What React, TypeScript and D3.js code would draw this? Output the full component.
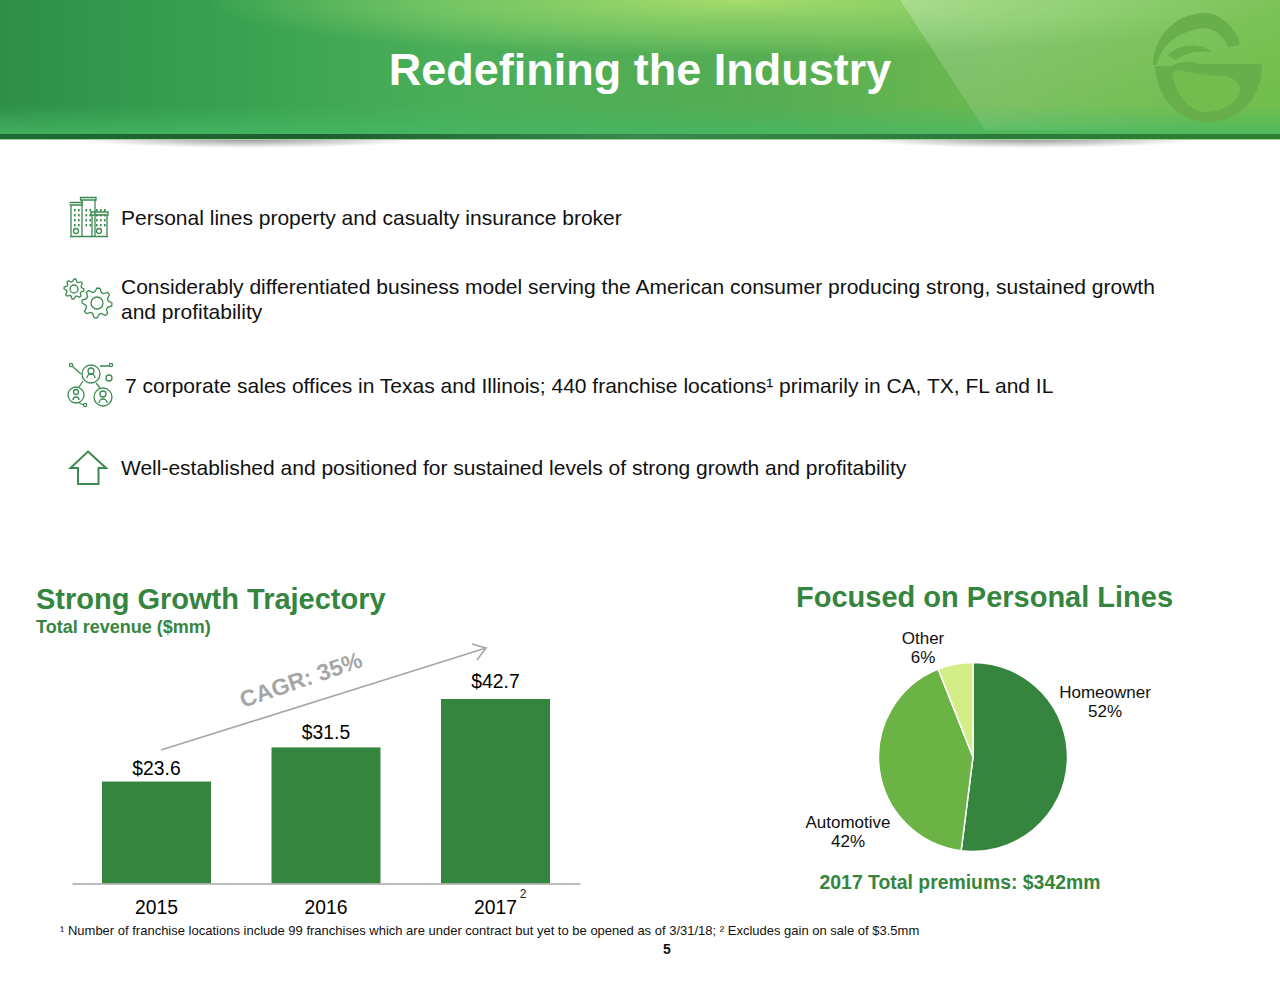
import React, { useEffect, useRef } from "react";
import * as d3 from "d3";

const years = ["2015", "2016", "2017"];
const revenue = [23.6, 31.5, 42.7];
const revenueLabels = ["$23.6", "$31.5", "$42.7"];

const lineNames = ["Homeowner", "Automotive", "Other"];
const lineShares = [52, 42, 6];
const lineColors = ["#35853f", "#6bb345", "#d3ee86"];

const GREEN = "#35853f";
const ICON = "#3c8a50";
const FONT = "'Liberation Sans', Arial, sans-serif";

const x = d3.scaleBand<string>().domain(years).range([72, 580]).paddingInner(0.357).paddingOuter(0.177);
const y = d3.scaleLinear().domain([0, 42.7]).range([883.5, 699]);

const labelGaps = [6.5, 8, 11];

const pieCenter = { x: 973, y: 757 };
const pieArcs = d3.pie<number>().sort(null)(lineShares);
const arc = d3.arc<d3.PieArcDatum<number>>().innerRadius(0).outerRadius(94.5);

const pieLabels = [
  { x: 1105, y: 698 },
  { x: 848, y: 828 },
  { x: 923, y: 644 },
];

function gearPath(cx: number, cy: number, r: number, teeth: number) {
  const pts: string[] = [];
  for (let i = 0; i < teeth * 4; i++) {
    const a = (i / (teeth * 4)) * Math.PI * 2;
    const rr = i % 4 < 2 ? r : r * 0.76;
    pts.push(`${cx + rr * Math.cos(a)},${cy + rr * Math.sin(a)}`);
  }
  return "M" + pts.join("L") + "Z";
}

function Header() {
  return (
    <g>
      <defs>
        <linearGradient id="base" x1="0" x2="1" y1="0" y2="0">
          <stop offset="0" stopColor="#2f8f49" />
          <stop offset="0.16" stopColor="#36a050" />
          <stop offset="0.35" stopColor="#4aae59" />
          <stop offset="0.6" stopColor="#56ad53" />
          <stop offset="0.78" stopColor="#6cb950" />
          <stop offset="1" stopColor="#73bf4c" />
        </linearGradient>
        <radialGradient id="glow" cx="0.58" cy="0" r="0.42">
          <stop offset="0" stopColor="#a8dc6c" stopOpacity="1" />
          <stop offset="0.6" stopColor="#8fd56a" stopOpacity="0.55" />
          <stop offset="1" stopColor="#8fd56a" stopOpacity="0" />
        </radialGradient>
        <linearGradient id="strip" x1="0" x2="0" y1="0" y2="1">
          <stop offset="0" stopColor="#45b864" stopOpacity="0" />
          <stop offset="1" stopColor="#45b864" stopOpacity="0.8" />
        </linearGradient>
        <linearGradient id="band" x1="0" x2="1" y1="0" y2="0">
          <stop offset="0" stopColor="#1e6a33" />
          <stop offset="0.25" stopColor="#1d5f30" />
          <stop offset="0.5" stopColor="#3a8a4d" />
          <stop offset="0.75" stopColor="#2c7a3c" />
          <stop offset="1" stopColor="#2f7f2e" />
        </linearGradient>
        <linearGradient id="ray" x1="0" x2="1" y1="0" y2="0.6">
          <stop offset="0" stopColor="#ffffff" stopOpacity="0.24" />
          <stop offset="1" stopColor="#ffffff" stopOpacity="0" />
        </linearGradient>
        <radialGradient id="shadow" cx="0.5" cy="0.5" r="0.5">
          <stop offset="0" stopColor="#777" stopOpacity="0.8" />
          <stop offset="1" stopColor="#777" stopOpacity="0" />
        </radialGradient>
      </defs>
      <ellipse cx={250} cy={139} rx={170} ry={9} fill="url(#shadow)" />
      <ellipse cx={1030} cy={139} rx={170} ry={9} fill="url(#shadow)" />
      <rect x={0} y={0} width={1280} height={135} fill="url(#base)" />
      <rect x={0} y={0} width={1280} height={135} fill="url(#glow)" />
      <rect x={0} y={105} width={1280} height={30} fill="url(#strip)" />
      <path d="M900,0L985,130L1280,130L1280,0Z" fill="url(#ray)" />
      <rect x={0} y={134} width={1280} height={5} fill="url(#band)" />
      <rect x={0} y={139} width={1280} height={1} fill="#9fd39a" />
      {/* logo watermark */}
      <g fill="#68ae4b">
        <path d="M1240,45C1236,26 1218,13 1205,13C1175,13 1153,38 1153,65L1157,65C1160,45 1180,30 1205,28C1218,30 1225,38 1228,47Z" />
        <path d="M1155,68C1158,100 1180,122 1207,122C1240,122 1262,98 1262,64L1198,64C1190,60 1180,62 1172,66L1155,66Z" />
        <path d="M1168,55C1178,44 1200,42 1212,52C1198,50 1185,53 1175,60Z" />
      </g>
      <path d="M1178,70C1190,72 1205,76 1225,76C1236,78 1241,85 1240,92C1236,105 1220,112 1205,112C1190,112 1175,95 1172,72Z" fill="#74bc4e" />
      <text x={640} y={85} textAnchor="middle" fontSize={45} fontWeight="bold" fill="#fff">
        Redefining the Industry
      </text>
    </g>
  );
}

function Icons() {
  return (
    <g fill="none" stroke={ICON} strokeWidth={1.3}>
      {/* buildings */}
      <path d="M70,236.5H108M71,236V205H82V236M69.5,205H83M69.5,202.5H83M82,236V200H95V236M80.5,197.5H96V200H80.5ZM92,236V215H107V236M91,212H108V215H91Z" />
      {[74, 78, 85.5, 89.5, 96, 100, 104].map((px) =>
        [209, 214, 219, 224].map((py) => (
          <rect key={`${px}-${py}`} x={px} y={py} width={1.6} height={2.4} fill={ICON} stroke="none" />
        ))
      )}
      <circle cx={76} cy={231} r={2.5} />
      <circle cx={99} cy={231} r={2.5} />
      {/* gears */}
      <path d={gearPath(74, 289, 10, 8)} />
      <circle cx={74} cy={289} r={4} />
      <path d={gearPath(97, 303, 15, 8)} />
      <circle cx={97} cy={303} r={6} />
      {/* people network */}
      <circle cx={91} cy={374} r={9} />
      <circle cx={76} cy={395} r={8} />
      <circle cx={103} cy={397} r={9} />
      <circle cx={91} cy={371} r={3} />
      <circle cx={76} cy={392} r={2.5} />
      <circle cx={103} cy={394} r={3} />
      <circle cx={109} cy={378} r={3} />
      <circle cx={71} cy={365} r={1.6} />
      <circle cx={111} cy={365} r={1.6} />
      <circle cx={85} cy={405} r={1.6} />
      <path d="M72,366L81,374M100,366H110M83,381L79,387M96,383L100,388M79,403L84,405M87,378a4,4 0 0 1 8,0M73,400a3,3 0 0 1 6,0M99,403a4,4 0 0 1 8,0" />
      {/* arrow */}
      <path d="M88,451.5L106,468H98.5V484H78V468H70.5Z" strokeWidth={2} />
    </g>
  );
}

export default function App() {
  const axisRef = useRef<SVGGElement>(null);

  useEffect(() => {
    const g = d3.select(axisRef.current);
    g.call(d3.axisBottom(x).tickSize(0).tickPadding(17) as any);
    g.select(".domain").attr("stroke", "#a6a6a6").attr("stroke-width", 1.5);
    g.selectAll("text").attr("font-size", 19.3).attr("font-family", FONT).attr("fill", "#000");
  }, []);

  return (
    <svg
      width={1280}
      height={989}
      fontFamily={FONT}
      style={{ position: "absolute", left: 0, top: 0, background: "#fff" }}
    >
      <Header />
      <Icons />

      <g fontSize={21} fill="#111">
        <text x={121} y={225}>Personal lines property and casualty insurance broker</text>
        <text x={121} y={294}>Considerably differentiated business model serving the American consumer producing strong, sustained growth</text>
        <text x={121} y={319}>and profitability</text>
        <text x={125} y={393}>7 corporate sales offices in Texas and Illinois; 440 franchise locations¹ primarily in CA, TX, FL and IL</text>
        <text x={121} y={475}>Well-established and positioned for sustained levels of strong growth and profitability</text>
      </g>

      <text x={36} y={609} fontSize={29} fontWeight="bold" fill={GREEN}>Strong Growth Trajectory</text>
      <text x={36} y={633} fontSize={18} fontWeight="bold" fill={GREEN}>Total revenue ($mm)</text>
      <text x={796} y={607} fontSize={29} fontWeight="bold" fill={GREEN}>Focused on Personal Lines</text>

      {/* bars */}
      {years.map((yr, i) => (
        <g key={yr}>
          <rect x={x(yr)} y={y(revenue[i])} width={x.bandwidth()} height={y(0) - y(revenue[i])} fill={GREEN} />
          <text x={x(yr)! + x.bandwidth() / 2} y={y(revenue[i]) - labelGaps[i]} textAnchor="middle" fontSize={19.3} fill="#000">
            {revenueLabels[i]}
          </text>
        </g>
      ))}
      <g ref={axisRef} transform={`translate(0,${y(0)})`} />
      <text x={523} y={898} textAnchor="middle" fontSize={12} fill="#222">2</text>

      {/* CAGR arrow */}
      <path d="M161,750L486,648M472,644L486,648L477,660" fill="none" stroke="#a6a6a6" strokeWidth={1.6} />
      <text
        transform="translate(243,708) rotate(-19)"
        fontSize={23}
        fontWeight="bold"
        fill="#a6a6a6"
      >
        CAGR: 35%
      </text>

      {/* pie */}
      <g transform={`translate(${pieCenter.x},${pieCenter.y})`}>
        {pieArcs.map((d, i) => (
          <path key={lineNames[i]} d={arc(d)!} fill={lineColors[i]} stroke="#fff" strokeWidth={1.5} />
        ))}
      </g>
      {lineNames.map((name, i) => (
        <text key={name} x={pieLabels[i].x} y={pieLabels[i].y} textAnchor="middle" fontSize={17} fill="#111">
          <tspan x={pieLabels[i].x}>{name}</tspan>
          <tspan x={pieLabels[i].x} dy={19}>{lineShares[i]}%</tspan>
        </text>
      ))}
      <text x={960} y={889} textAnchor="middle" fontSize={19.4} fontWeight="bold" fill={GREEN}>
        2017 Total premiums: $342mm
      </text>

      <text x={60} y={935} fontSize={13} fill="#111">
        ¹ Number of franchise locations include 99 franchises which are under contract but yet to be opened as of 3/31/18; ² Excludes gain on sale of $3.5mm
      </text>
      <text x={667} y={954} textAnchor="middle" fontSize={14} fontWeight="bold" fill="#111">5</text>
    </svg>
  );
}
